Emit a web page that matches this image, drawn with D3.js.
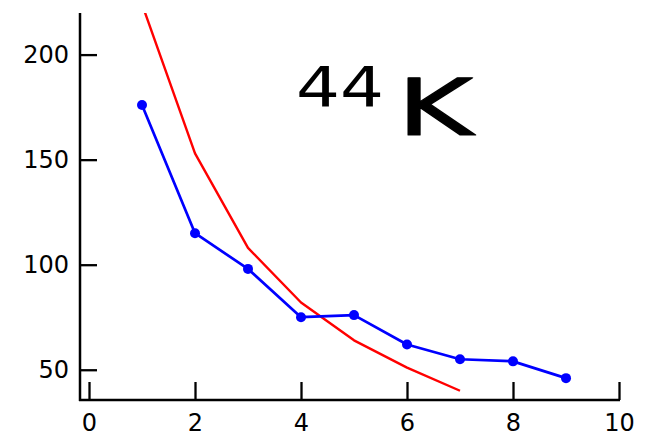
<!DOCTYPE html>
<html>
<head>
<meta charset="utf-8">
<script src="https://cdn.jsdelivr.net/npm/d3@7"></script>
<style>
  html, body { margin: 0; padding: 0; background: #fff; }
  svg { display: block; }
  .tick text { font-family: "DejaVu Sans", sans-serif; font-size: 24px; fill: #000; }
</style>
</head>
<body>
<svg id="chart" width="657" height="442"></svg>
<script>
// Observed counts (blue, with markers)
const observedX = [1, 2, 3, 4, 5, 6, 7, 8, 9];
const observedY = [176, 115, 98, 75, 76, 62, 55, 54, 46];

// Model curve (red)
const modelX = [1, 2, 3, 4, 5, 6, 7];
const modelY = [224, 153, 108, 82, 64, 51, 40];

// Axis ticks
const xTicks = [0, 2, 4, 6, 8, 10];
const yTicks = [50, 100, 150, 200];

const svg = d3.select("#chart");

const plotLeft = 80, plotRight = 619, plotTop = 13, plotBottom = 400;

const x = d3.scaleLinear().domain([-0.17, 10]).range([plotLeft, plotRight]);
const y = d3.scaleLinear().domain([35.6, 219.8]).range([plotBottom, plotTop]);

svg.append("defs").append("clipPath").attr("id", "plotClip")
  .append("rect")
  .attr("x", plotLeft).attr("y", plotTop)
  .attr("width", plotRight - plotLeft + 20).attr("height", plotBottom - plotTop);

const plot = svg.append("g").attr("clip-path", "url(#plotClip)");

const line = d3.line().x(d => x(d[0])).y(d => y(d[1]));

plot.append("path")
  .datum(d3.zip(modelX, modelY))
  .attr("d", line)
  .attr("fill", "none")
  .attr("stroke", "#ff0000")
  .attr("stroke-width", 2.4)
  .attr("stroke-linejoin", "round");

plot.append("path")
  .datum(d3.zip(observedX, observedY))
  .attr("d", line)
  .attr("fill", "none")
  .attr("stroke", "#0000ff")
  .attr("stroke-width", 2.7)
  .attr("stroke-linejoin", "round");

plot.selectAll("circle")
  .data(d3.zip(observedX, observedY))
  .join("circle")
  .attr("cx", d => x(d[0]))
  .attr("cy", d => y(d[1]))
  .attr("r", 5)
  .attr("fill", "#0000ff");

// Axes: ticks point inward
const xAxis = d3.axisBottom(x).tickValues(xTicks).tickSizeInner(-18).tickSizeOuter(0).tickPadding(22);
const yAxis = d3.axisLeft(y).tickValues(yTicks).tickSizeInner(-17).tickSizeOuter(0).tickPadding(11);

const gx = svg.append("g").attr("transform", `translate(0,${plotBottom})`).call(xAxis);
const gy = svg.append("g").attr("transform", `translate(${plotLeft},0)`).call(yAxis);

[gx, gy].forEach(g => {
  g.select(".domain").remove();
  g.selectAll(".tick line").attr("stroke", "#000").attr("stroke-width", 2.3);
});
gy.selectAll(".tick text").attr("x", -11);
gx.selectAll(".tick text").attr("dy", "0.71em").attr("y", 14);

// Axis lines
svg.append("line")
  .attr("x1", plotLeft).attr("x2", plotLeft)
  .attr("y1", plotTop).attr("y2", plotBottom + 1)
  .attr("stroke", "#000").attr("stroke-width", 2.5);
svg.append("line")
  .attr("x1", plotLeft - 1).attr("x2", plotRight + 1)
  .attr("y1", plotBottom).attr("y2", plotBottom)
  .attr("stroke", "#000").attr("stroke-width", 2.5);

// Annotation
const note = svg.append("g")
  .attr("fill", "#000").attr("stroke", "#000")
  .attr("stroke-linejoin", "round").attr("stroke-linecap", "round")
  .style("font-family", "'DejaVu Sans', sans-serif");
note.append("text")
  .attr("x", 296).attr("y", 106)
  .attr("font-size", 56).attr("stroke-width", 0)
  .attr("textLength", 88).attr("lengthAdjust", "spacingAndGlyphs")
  .text("44");
note.append("text")
  .attr("x", 397).attr("y", 135)
  .attr("font-size", 78).attr("stroke-width", 1.2)
  .attr("textLength", 76).attr("lengthAdjust", "spacingAndGlyphs")
  .text("K");
</script>
</body>
</html>
